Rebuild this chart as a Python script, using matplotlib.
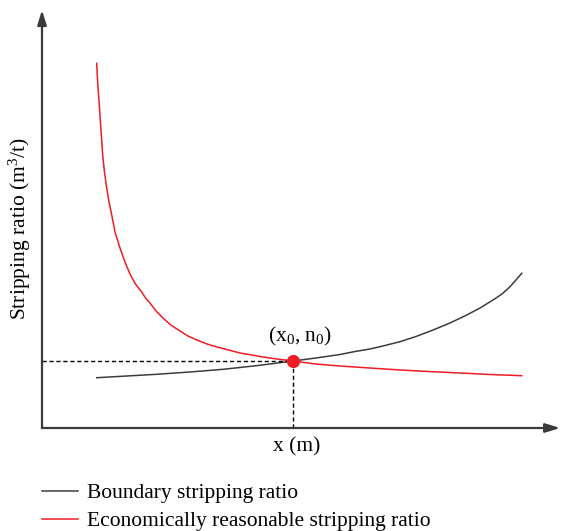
import matplotlib
matplotlib.use("Agg")
import matplotlib.pyplot as plt

plt.rcParams['font.family'] = ['Liberation Serif', 'DejaVu Serif']
plt.rcParams['mathtext.default'] = 'regular'

# curve values (axis scaled 0..100 in both directions)
red_x = [10.66, 10.87, 11.17, 11.50, 11.83, 12.18, 12.61, 13.06, 13.59, 14.23,
         15.20, 16.18, 17.15, 18.23, 19.43, 20.18, 21.05, 22.22, 23.59, 25.15,
         26.90, 28.46, 30.21, 32.16, 34.11, 36.26, 38.60, 40.74, 43.08, 45.81,
         48.93, 53.41, 58.09, 63.94, 69.79, 75.63, 81.48, 87.33, 93.51]
red_y = [87.25, 82.30, 77.27, 71.30, 65.31, 61.20, 57.42, 54.10, 50.96, 46.90,
         43.06, 39.70, 36.84, 34.40, 32.54, 31.10, 29.90, 28.00, 26.32, 24.60,
         23.21, 22.00, 21.05, 20.10, 19.38, 18.70, 17.94, 17.50, 16.99, 16.50,
         16.03, 15.30, 14.83, 14.35, 13.88, 13.50, 13.16, 12.80, 12.51]

black_x = [10.66, 16.57, 22.36, 28.85, 35.28, 42.11, 48.93, 53.41, 58.09,
           61.01, 63.94, 66.86, 69.79, 72.90, 76.22, 79.53, 82.79, 85.38,
           87.91, 89.67, 91.23, 92.40, 93.51]
black_y = [12.03, 12.44, 12.85, 13.40, 14.04, 14.95, 16.03, 16.75, 17.58,
           18.30, 18.90, 19.74, 20.65, 21.89, 23.44, 25.12, 27.03, 28.71,
           30.62, 32.06, 33.80, 35.41, 37.01]

x0, n0 = 48.93, 16.03

labels = ["Boundary stripping ratio", "Economically reasonable stripping ratio"]

W, H = 565, 531
fs = 15.5
fig = plt.figure(figsize=(W / 100, H / 100), dpi=100)
ax = fig.add_axes([42 / W, (H - 428) / H, (555 - 42) / W, (428 - 10) / H])
ax.set_xlim(0, 100)
ax.set_ylim(0, 100)
ax.axis('off')

# axes drawn as arrows
arrow = dict(arrowstyle='-|>,head_length=0.55,head_width=0.17', lw=1.6,
             color='#3a3a3a', mutation_scale=16, shrinkA=0, shrinkB=0)
ax.annotate('', xy=(101, 0), xytext=(0, 0), arrowprops=arrow, annotation_clip=False)
ax.annotate('', xy=(0, 100), xytext=(0, 0), arrowprops=arrow, annotation_clip=False)

line_b, = ax.plot(black_x, black_y, color='#3c3c3c', lw=1.1, label=labels[0],
                  solid_joinstyle='round')
line_r, = ax.plot(red_x, red_y, color='#ee1c25', lw=1.1, label=labels[1],
                  solid_joinstyle='round')

# guide lines to the intersection
ax.plot([0, x0], [n0, n0], color='black', lw=1.0, ls=(0, (3, 2)))
ax.plot([x0, x0], [0, n0], color='black', lw=1.0, ls=(0, (3, 2)))
ax.plot(x0, n0, 'o', color='#ee1c25', ms=8.5, zorder=5)
ax.text(x0 + 1.3, n0 + 3.0, '(x$_0$, n$_0$)', fontsize=fs, ha='center', va='bottom')

fig.text(297 / W, 1 - 447 / H, 'x (m)', fontsize=fs, ha='center', va='center')
fig.text(20 / W, 1 - 229 / H, 'Stripping ratio (m$^3$/t)', fontsize=fs,
         ha='center', va='center', rotation=90)

fig.legend(handles=[line_b, line_r], loc='upper left',
           bbox_to_anchor=(42 / W, 1 - 483 / H), frameon=False, fontsize=fs,
           borderpad=0, borderaxespad=0, handlelength=1.65, handletextpad=0.45,
           labelspacing=0.37)

fig.savefig('out.png', dpi=100)
